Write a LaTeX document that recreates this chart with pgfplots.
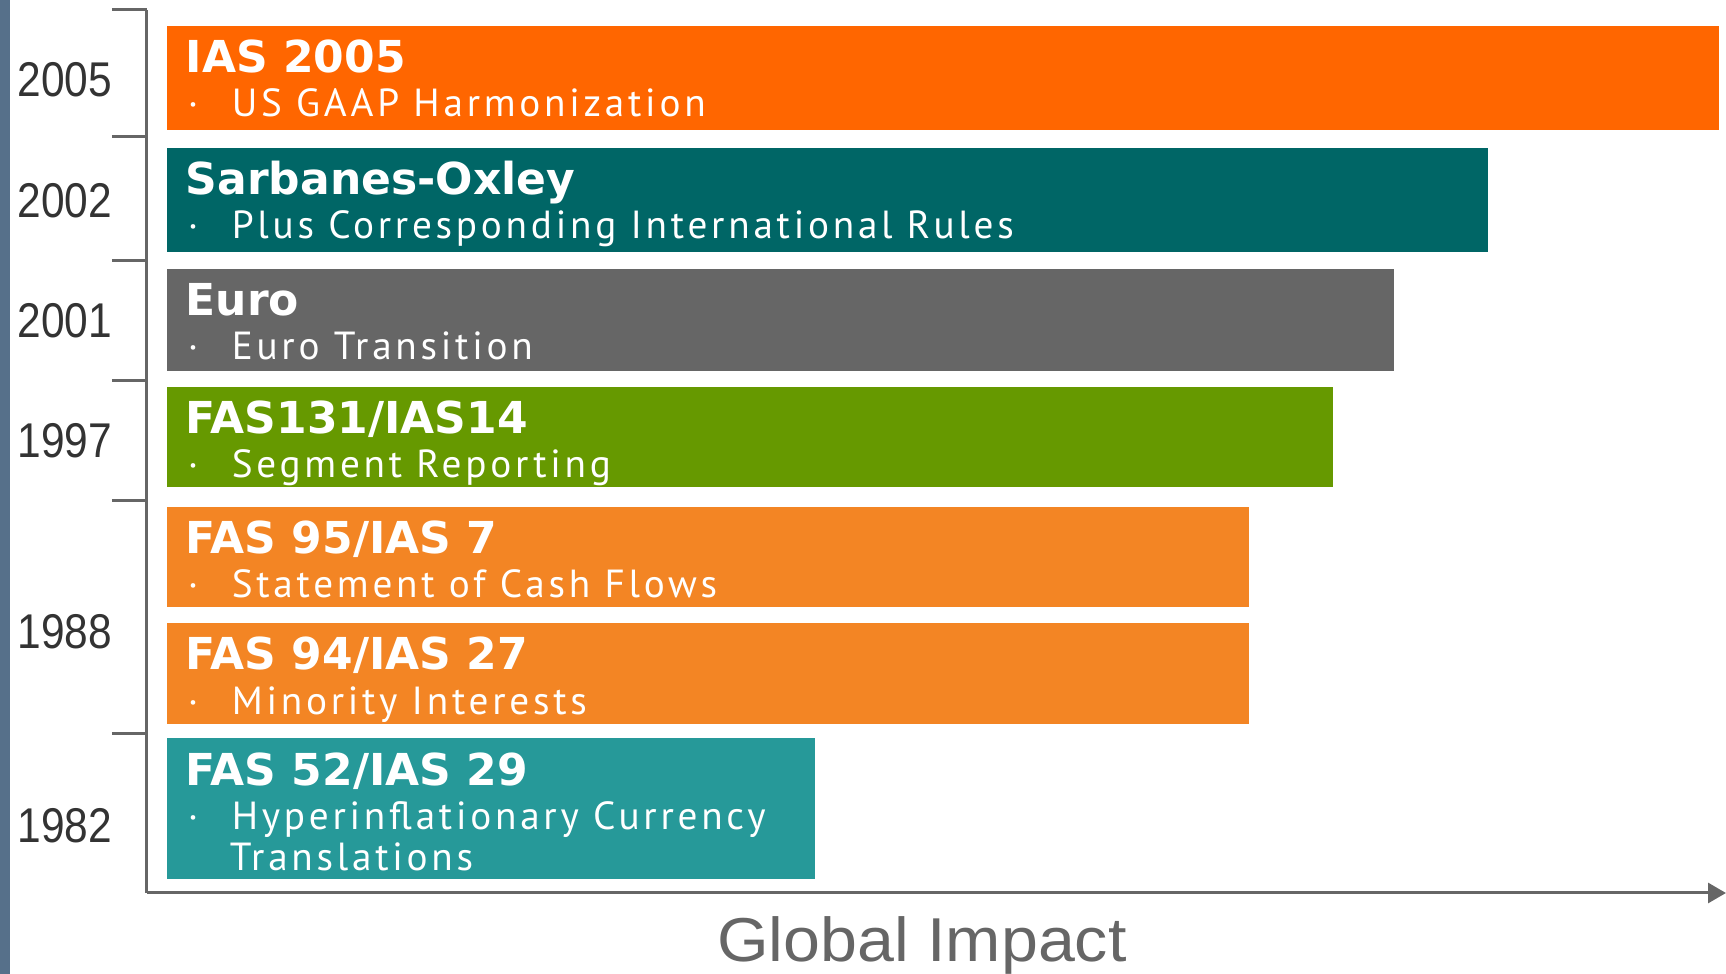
\documentclass[border=0pt]{standalone}
\usepackage{pgfplots}
\pgfplotsset{compat=1.18}
\usetikzlibrary{arrows.meta}
\usepackage{fontspec}
\setmainfont{Liberation Sans}
\newfontfamily\titlefont{DejaVu Sans}
\newfontfamily\subfont{PT Sans}[LetterSpace=9.6]
\newfontfamily\yearfont{Liberation Sans}[FakeStretch=0.87]

\definecolor{cOrange}{HTML}{FF6600}
\definecolor{cTeal}{HTML}{006666}
\definecolor{cGrey}{HTML}{666666}
\definecolor{cGreen}{HTML}{669900}
\definecolor{cLtOrange}{HTML}{F38524}
\definecolor{cLtTeal}{HTML}{269999}
\definecolor{cStrip}{HTML}{56708A}
\definecolor{cAxis}{HTML}{666666}
\definecolor{cYear}{HTML}{333333}

% px -> pt : 0.25pt per pixel, x measured from bar start, y from bottom
\tikzset{
  ttl/.style={anchor=base west, inner sep=0pt, text=white,
    font=\titlefont\bfseries\fontsize{11}{13}\selectfont},
  sub/.style={anchor=base west, inner sep=0pt, text=white,
    font=\subfont\fontsize{9.8}{11}\selectfont},
}

\begin{document}
\begin{tikzpicture}
\begin{axis}[
  x=0.25pt, y=0.25pt,
  xmin=-20, xmax=1559,
  ymin=81, ymax=964,
  clip=false,
  axis x line=bottom, axis y line=left,
  axis line style={line width=0.75pt, cAxis},
  x axis line style={-{Triangle[length=4.5pt,width=5pt]}},
  y axis line style={-},
  xtick=\empty,
  ytick={894,773,653,533,342,148},
  yticklabels={2005,2002,2001,1997,1988,1982},
  major tick length=0pt,
  yticklabel style={anchor=east, inner sep=0pt, xshift=-8.5pt,
    font=\yearfont\fontsize{12.2}{14}\selectfont, text=cYear},
  extra y ticks={964,837,713,593,473,240},
  extra y tick labels={},
  extra y tick style={major tick length=8.75pt, tick align=outside,
    tick style={line width=0.75pt, cAxis}},
  xlabel={Global Impact},
  xlabel style={at={(axis description cs:0.4908,-0.078)}, anchor=base,
    inner sep=0pt, text=cAxis,
    font=\fontsize{15.5}{18}\selectfont, xscale=1.07},
]
% background strip on the left edge
\fill[cStrip] (axis cs:-167,0) rectangle (axis cs:-157,974);
\coordinate (BL) at (axis cs:-167,0);
\coordinate (TR) at (axis cs:1559,974);

\addplot[xbar, bar width=104, fill=cOrange, draw=none] coordinates {(1552,896)};
\addplot[xbar, bar width=104, fill=cTeal, draw=none] coordinates {(1321,774)};
\addplot[xbar, bar width=102, fill=cGrey, draw=none] coordinates {(1227,654)};
\addplot[xbar, bar width=100, fill=cGreen, draw=none] coordinates {(1166,537)};
\addplot[xbar, bar width=100, fill=cLtOrange, draw=none] coordinates {(1082,417)};
\addplot[xbar, bar width=101, fill=cLtOrange, draw=none] coordinates {(1082,300.5)};
\addplot[xbar, bar width=141, fill=cLtTeal, draw=none] coordinates {(648,165.5)};

\node[ttl] at (axis cs:18,901) {IAS 2005};
\node[sub] at (axis cs:20,857) {·};
\node[sub] at (axis cs:64,857) {US GAAP Harmonization};

\node[ttl] at (axis cs:18,779) {Sarbanes-Oxley};
\node[sub] at (axis cs:20,735) {·};
\node[sub] at (axis cs:64,735) {Plus Corresponding International Rules};

\node[ttl] at (axis cs:18,658) {Euro};
\node[sub] at (axis cs:20,614) {·};
\node[sub] at (axis cs:64,614) {Euro Transition};

\node[ttl] at (axis cs:18,540) {FAS131/IAS14};
\node[sub] at (axis cs:20,496) {·};
\node[sub] at (axis cs:64,496) {Segment Reporting};

\node[ttl] at (axis cs:18,420) {FAS 95/IAS 7};
\node[sub] at (axis cs:20,376) {·};
\node[sub] at (axis cs:64,376) {Statement of Cash Flows};

\node[ttl] at (axis cs:18,304) {FAS 94/IAS 27};
\node[sub] at (axis cs:20,260) {·};
\node[sub] at (axis cs:64,260) {Minority Interests};

\node[ttl] at (axis cs:18,189) {FAS 52/IAS 29};
\node[sub] at (axis cs:20,145) {·};
\node[sub] at (axis cs:64,145) {Hyperinflationary Currency};
\node[sub] at (axis cs:62,103) {Translations};
\end{axis}
\pgfresetboundingbox
\path[use as bounding box] (BL) rectangle (TR);
\end{tikzpicture}
\end{document}
